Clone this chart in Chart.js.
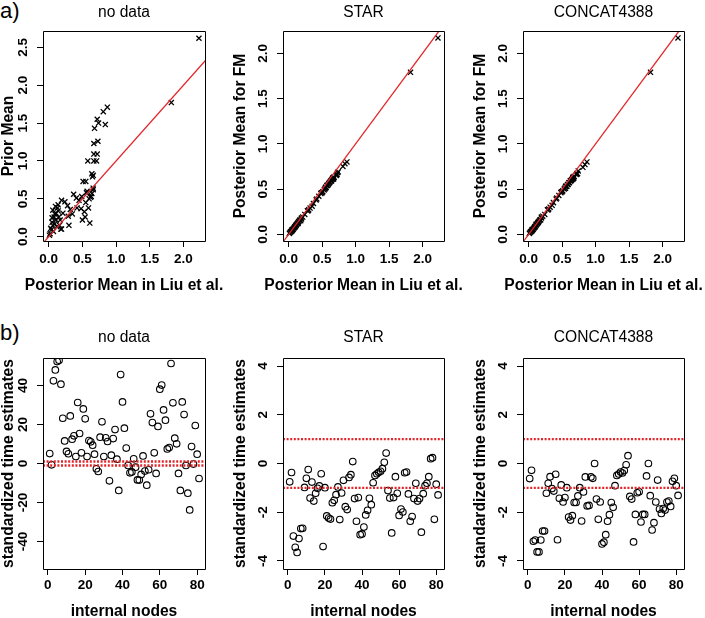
<!DOCTYPE html>
<html>
<head>
<meta charset="utf-8">
<script src="https://cdn.jsdelivr.net/npm/chart.js@4.4.0/dist/chart.umd.min.js"></script>
<style>
  body { margin: 0; background: #fff; }
  #fig { position: relative; width: 705px; height: 618px; overflow: hidden; }
  #fig canvas { position: absolute; }
  .tag { position: absolute; left: 0; font-family: 'Liberation Sans', Arial, sans-serif; font-size: 22px; line-height: 22px; color: #000; }
</style>
</head>
<body>
<div id="fig">
  <div class="tag" style="top:0px">a)</div>
  <div class="tag" style="top:322px">b)</div>
</div>
<script>
// ---- data: row a (posterior means) ----
var liuMean = [2.23, 1.82, 0.87, 0.81, 0.84, 0.72, 0.74, 0.68, 0.67, 0.73,
  0.67, 0.72, 0.67, 0.58, 0.71, 0.64, 0.65, 0.66, 0.64, 0.60,
  0.55, 0.51, 0.55, 0.57, 0.59, 0.53, 0.54, 0.50, 0.61, 0.48,
  0.49, 0.45, 0.41, 0.37, 0.32, 0.28, 0.30, 0.29, 0.19, 0.21,
  0.17, 0.18, 0.19, 0.14, 0.14, 0.10, 0.11, 0.06, 0.08, 0.05,
  0.06, 0.04, 0.02, 0.11, 0.12, 0.09, 0.15, 0.03, 0.07, 0.16,
  0.01, 0.62, 0.56, 0.66, 0.09, 0.13, 0.05, 0.24, 0.35, 0.42,
  0.66, 0.63];
var priorMean = [2.62, 1.77, 1.71, 1.65, 1.48, 1.55, 1.50, 1.43, 1.23, 1.26,
  1.09, 1.09, 1.00, 1.00, 1.00, 0.83, 0.79, 0.64, 0.57, 0.50,
  0.45, 0.73, 0.73, 0.60, 0.38, 0.33, 0.26, 0.22, 0.18, 0.37,
  0.53, 0.48, 0.51, 0.56, 0.36, 0.41, 0.15, 0.27, 0.48, 0.31,
  0.22, 0.10, 0.10, 0.42, 0.34, 0.40, 0.31, 0.35, 0.26, 0.19,
  0.15, 0.09, 0.04, 0.22, 0.13, 0.17, 0.26, 0.11, 0.07, 0.15,
  0.02, 0.52, 0.58, 0.62, 0.30, 0.38, 0.25, 0.46, 0.30, 0.38,
  0.81, 0.53];
var starFM = [2.17, 1.79, 0.80, 0.75, 0.78, 0.66, 0.69, 0.63, 0.62, 0.68,
  0.61, 0.66, 0.63, 0.54, 0.65, 0.60, 0.61, 0.62, 0.59, 0.56,
  0.52, 0.47, 0.51, 0.54, 0.55, 0.49, 0.50, 0.46, 0.57, 0.45,
  0.46, 0.42, 0.38, 0.34, 0.29, 0.26, 0.27, 0.26, 0.18, 0.19,
  0.16, 0.15, 0.17, 0.12, 0.13, 0.09, 0.10, 0.05, 0.07, 0.04,
  0.05, 0.03, 0.02, 0.10, 0.11, 0.08, 0.14, 0.03, 0.06, 0.15,
  0.01, 0.58, 0.52, 0.61, 0.08, 0.12, 0.05, 0.22, 0.31, 0.39,
  0.62, 0.59];
var concatFM = [2.17, 1.79, 0.80, 0.74, 0.77, 0.67, 0.70, 0.64, 0.63, 0.67,
  0.62, 0.67, 0.62, 0.55, 0.66, 0.60, 0.61, 0.61, 0.60, 0.57,
  0.53, 0.48, 0.51, 0.53, 0.55, 0.50, 0.51, 0.47, 0.57, 0.46,
  0.47, 0.43, 0.39, 0.35, 0.30, 0.27, 0.28, 0.27, 0.19, 0.20,
  0.16, 0.16, 0.18, 0.13, 0.13, 0.09, 0.10, 0.05, 0.07, 0.04,
  0.05, 0.03, 0.02, 0.11, 0.11, 0.08, 0.14, 0.03, 0.06, 0.15,
  0.01, 0.59, 0.53, 0.62, 0.08, 0.12, 0.05, 0.22, 0.32, 0.40,
  0.63, 0.59];

// ---- data: row b (standardized time estimates per internal node) ----
var nodes = [1, 2, 3, 4, 5, 6, 7, 8, 9, 10, 11, 12, 13, 14, 15, 16, 17, 18, 19, 20,
  21, 22, 23, 24, 25, 26, 27, 28, 29, 30, 31, 32, 33, 34, 35, 36, 37, 38, 39, 40,
  41, 42, 43, 44, 45, 46, 47, 48, 49, 50, 51, 52, 53, 54, 55, 56, 57, 58, 59, 60,
  61, 62, 63, 64, 65, 66, 67, 68, 69, 70, 71, 72, 73, 74, 75, 76, 77, 78, 79, 80, 81];
var noDataTimes = [5.1, -0.7, 42.4, 48.0, 52.3, 53.0, 40.7, 23.2, 11.6, 6.2,
  5.0, 24.4, 12.5, 14.2, 3.6, 31.3, 15.4, 5.5, 28.0, 22.9,
  3.6, 11.8, 11.1, 9.4, 4.8, -2.7, -4.1, 13.5, 21.4, 3.6,
  13.2, 11.3, -8.9, 4.3, 12.8, 17.4, 2.2, -13.8, 45.6, 31.6,
  18.1, 7.9, -1.0, -4.8, -4.3, 2.4, -1.9, -8.4, -8.5, -5.6,
  3.9, -3.9, -11.1, -3.2, 25.5, 21.0, 5.5, -5.1, 19.0, 38.1,
  40.2, 27.5, 22.2, 7.5, 8.2, 51.3, 31.1, 13.0, 10.1, -5.1,
  -13.8, 31.6, 25.1, -1.0, -15.2, -23.8, 8.7, -0.3, 19.5, 4.8,
  -7.7];
var starTimes = [-0.75, -0.37, -2.98, -3.44, -3.65, -3.08, -2.67, -2.66, -0.98, -0.61,
  -0.25, -1.42, -0.76, -1.54, -1.22, -1.02, -0.92, -0.42, -3.41, -0.99,
  -2.15, -2.24, -2.28, -1.61, -1.51, -1.28, -0.96, -2.30, -1.21, -0.69,
  -1.77, -1.89, -0.57, -0.46, 0.08, -1.44, -2.37, -1.40, -2.92, -2.89,
  -2.61, -2.11, -1.92, -1.43, -1.69, -0.79, -0.49, -0.42, -0.36, -0.32,
  -0.21, 0.05, 0.43, -1.11, -1.42, -2.85, -1.40, -0.54, -1.22, -2.13,
  -1.87, -1.99, -0.38, -0.35, -1.25, -2.37, -2.18, -1.44, -0.81, -1.54,
  -1.44, -2.82, -1.24, -0.91, -0.81, -0.54, 0.20, 0.24, -2.29, -0.85,
  -1.29];
var concatTimes = [-0.62, -0.28, -3.19, -3.14, -3.63, -3.63, -3.14, -2.77, -2.77, -1.22,
  -0.81, -0.54, -1.03, -1.13, -0.44, -3.13, -1.43, -0.88, -1.58, -1.40,
  -0.99, -2.20, -2.32, -2.14, -1.60, -1.60, -1.33, -0.99, -2.36, -1.17,
  -0.55, -1.74, -1.72, -0.55, -0.61, 0.00, -1.46, -2.29, -1.58, -3.30,
  -3.23, -2.92, -2.37, -2.10, -1.60, -1.80, -0.91, -0.49, -0.43, -0.35,
  -0.39, -0.29, -0.05, 0.32, -1.35, -1.46, -3.22, -2.09, -1.20, -1.16,
  -2.40, -2.09, -2.09, -0.51, 0.00, -1.32, -2.73, -2.43, -1.58, -0.68,
  -1.87, -2.05, -1.85, -1.91, -1.58, -1.54, -1.76, -0.73, -0.61, -0.91,
  -1.31];

// reference lines
var identityLine = [-1, 3];
var bandLevels = [-1, 1];

// tick values
var meanTicks = [0, 0.5, 1, 1.5, 2];
var priorTicks = [0, 0.5, 1, 1.5, 2, 2.5];
var fmTicks = [0, 0.5, 1, 1.5, 2];
var nodeTicks = [0, 20, 40, 60, 80];
var noDataTicks = [-40, -20, 0, 20, 40];
var stdTicks = [-4, -2, 0, 2, 4];

// axis ranges (R adds 4% around the data)
var meanRange = [-0.085, 2.32];
var priorRange = [-0.057, 2.715];
var fmRange = [-0.074, 2.246];
var nodeRange = [-2.6, 84.2];
var noDataRange = [-54.1, 54.1];
var stdRange = [-4.33, 4.33];

var FONT = "'Liberation Sans', Arial, Helvetica, sans-serif";
var RED = '#e3262a';
var titleFont = { family: FONT, size: 15.6, weight: 'normal' };
var tickFont = { family: FONT, size: 13.5, weight: 'bold' };
var AXIS_CSS = 'bold 15.6px ' + FONT;

// panel placement on the page
var cols = [
  { left: 0, width: 232, yAxisW: 43, padRight: 27, yTitleX: 13.3 },
  { left: 232, width: 239, yAxisW: 51, padRight: 27, yTitleX: 13 },
  { left: 471, width: 234, yAxisW: 52, padRight: 21, yTitleX: 14 }
];
var rows = [
  { top: 0, height: 300, titleTop: 3.4, titleBottom: 8.9, xAxisH: 59, tickPad: 4, xTitleBase: 290 },
  { top: 300, height: 318, titleTop: 28.1, titleBottom: 11.2, xAxisH: 49, tickPad: 2, xTitleBase: 315.5 }
];

function fmt1(v) { return Number(v).toFixed(1); }
function fmt0(v) { return String(Math.round(v)); }

// box round the plot region, rotated y tick labels and axis titles, like base R graphics
var rFrame = {
  id: 'rFrame',
  afterDraw: function (chart, args, opts) {
    var a = chart.chartArea, ctx = chart.ctx;
    var ys = chart.scales.y;
    var yfmt = chart.canvas.$yfmt || fmt1;
    var l = Math.round(a.left) + 0.5, t = Math.round(a.top) + 0.5;
    var r = Math.round(a.right) + 0.5, b = Math.round(a.bottom) + 0.5;
    ctx.save();
    ctx.setLineDash([]);
    ctx.strokeStyle = '#000';
    ctx.lineWidth = 1;
    ctx.beginPath();
    ctx.moveTo(l, t);
    ctx.lineTo(r, t);
    ctx.lineTo(r, b);
    ctx.lineTo(l, b);
    ctx.closePath();
    ctx.stroke();

    ctx.fillStyle = '#000';
    ctx.font = 'bold ' + tickFont.size + 'px ' + FONT;
    ctx.textAlign = 'center';
    ctx.textBaseline = 'middle';
    ys.ticks.forEach(function (tk) {
      var py = ys.getPixelForValue(tk.value);
      ctx.save();
      ctx.translate(a.left - 20, py);
      ctx.rotate(-Math.PI / 2);
      ctx.fillText(yfmt(tk.value), 0, 0);
      ctx.restore();
    });

    ctx.font = AXIS_CSS;
    ctx.textBaseline = 'alphabetic';
    ctx.fillText(opts.xTitle, (a.left + a.right) / 2, opts.xBase);
    ctx.save();
    ctx.translate(opts.yBase, (a.top + a.bottom) / 2);
    ctx.rotate(-Math.PI / 2);
    ctx.fillText(opts.yTitle, 0, 0);
    ctx.restore();
    ctx.restore();
  }
};

function scaleX(range, ticks, fmt, row) {
  return {
    type: 'linear', min: range[0], max: range[1],
    afterBuildTicks: function (s) { s.ticks = ticks.map(function (v) { return { value: v }; }); },
    afterFit: function (s) { s.height = row.xAxisH; },
    grid: { drawOnChartArea: false, drawTicks: true, tickLength: 6, color: '#000', lineWidth: 1 },
    border: { display: false },
    ticks: { autoSkip: false, maxRotation: 0, minRotation: 0, padding: row.tickPad, color: '#000', font: tickFont, callback: fmt },
    title: { display: false }
  };
}

function scaleY(range, ticks, col) {
  return {
    type: 'linear', min: range[0], max: range[1],
    afterBuildTicks: function (s) { s.ticks = ticks.map(function (v) { return { value: v }; }); },
    afterFit: function (s) { s.width = col.yAxisW; },
    grid: { drawOnChartArea: false, drawTicks: true, tickLength: 6, color: '#000', lineWidth: 1 },
    border: { display: false },
    ticks: { display: false },
    title: { display: false }
  };
}

function pairs(xs, ys) {
  return xs.map(function (x, i) { return { x: x, y: ys[i] }; });
}

function makePanel(c, r, title, datasets, xRange, xTicks, xfmt, xTitle, yRange, yTicks, yfmt, yTitle) {
  var col = cols[c], row = rows[r];
  var cv = document.createElement('canvas');
  cv.width = col.width;
  cv.height = row.height;
  cv.style.left = col.left + 'px';
  cv.style.top = row.top + 'px';
  cv.$yfmt = yfmt;
  document.getElementById('fig').appendChild(cv);
  return new Chart(cv.getContext('2d'), {
    type: 'scatter',
    data: { datasets: datasets },
    options: {
      responsive: false,
      animation: false,
      devicePixelRatio: 1,
      layout: { padding: { left: 0, right: col.padRight, top: 0, bottom: 0 } },
      plugins: {
        legend: { display: false },
        tooltip: { enabled: false },
        title: { display: true, text: title, color: '#000', font: titleFont, fullSize: false,
          padding: { top: row.titleTop, bottom: row.titleBottom } },
        rFrame: { xTitle: xTitle, yTitle: yTitle, xBase: row.xTitleBase, yBase: col.yTitleX }
      },
      scales: { x: scaleX(xRange, xTicks, xfmt, row), y: scaleY(yRange, yTicks, col) }
    },
    plugins: [rFrame]
  });
}

// row a datasets
function meanSets(yvals) {
  return [
    { type: 'line', data: pairs(identityLine, identityLine), borderColor: RED, borderWidth: 1.3,
      pointRadius: 0, fill: false, clip: 0 },
    { data: pairs(liuMean, yvals), pointStyle: 'crossRot', pointRadius: 3.6, borderColor: '#000',
      backgroundColor: '#000', pointBorderWidth: 1.3, clip: 0 }
  ];
}

// row b datasets
function timeSets(yvals) {
  var sets = [];
  bandLevels.forEach(function (lv) {
    sets.push({ type: 'line', data: pairs(nodeRange, [lv, lv]), borderColor: RED, borderWidth: 2.4,
      borderDash: [2, 1.6], pointRadius: 0, fill: false, clip: 0 });
  });
  sets.push({ data: pairs(nodes, yvals), pointStyle: 'circle', pointRadius: 3.3, borderColor: '#000',
    backgroundColor: 'rgba(0,0,0,0)', pointBorderWidth: 1.1, clip: 0 });
  return sets;
}

var liuTitle = 'Posterior Mean in Liu et al.';
var fmTitle = 'Posterior Mean for FM';
var nodeTitle = 'internal nodes';
var timeTitle = 'standardized time estimates';

makePanel(0, 0, 'no data', meanSets(priorMean), meanRange, meanTicks, fmt1, liuTitle, priorRange, priorTicks, fmt1, 'Prior Mean');
makePanel(1, 0, 'STAR', meanSets(starFM), meanRange, meanTicks, fmt1, liuTitle, fmRange, fmTicks, fmt1, fmTitle);
makePanel(2, 0, 'CONCAT4388', meanSets(concatFM), meanRange, meanTicks, fmt1, liuTitle, fmRange, fmTicks, fmt1, fmTitle);

makePanel(0, 1, 'no data', timeSets(noDataTimes), nodeRange, nodeTicks, fmt0, nodeTitle, noDataRange, noDataTicks, fmt0, timeTitle);
makePanel(1, 1, 'STAR', timeSets(starTimes), nodeRange, nodeTicks, fmt0, nodeTitle, stdRange, stdTicks, fmt0, timeTitle);
makePanel(2, 1, 'CONCAT4388', timeSets(concatTimes), nodeRange, nodeTicks, fmt0, nodeTitle, stdRange, stdTicks, fmt0, timeTitle);
</script>
</body>
</html>
